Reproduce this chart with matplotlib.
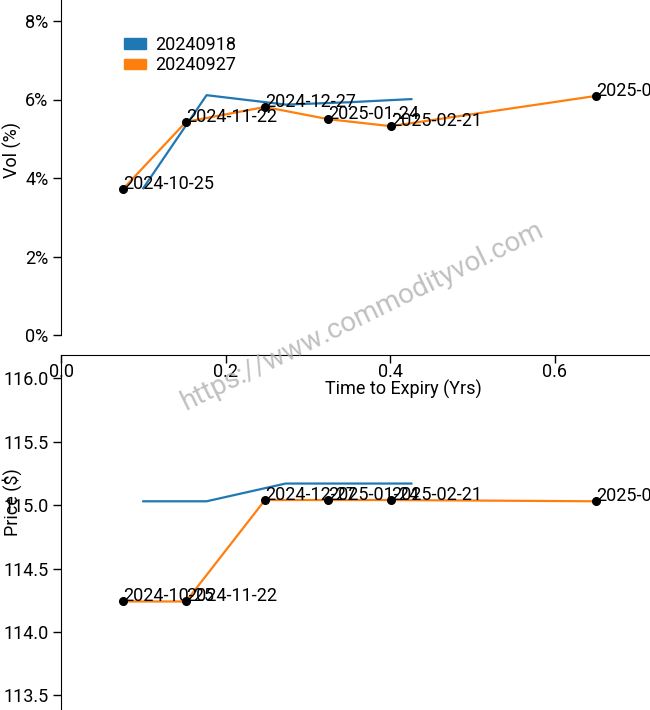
import matplotlib
matplotlib.use("Agg")
import matplotlib.pyplot as plt
from matplotlib.patches import Patch
from matplotlib.ticker import FuncFormatter

plt.rcParams["font.family"] = ["Roboto", "DejaVu Sans"]
plt.rcParams["font.size"] = 13

# 数据
series_names = ["20240918", "20240927"]
blue_t = [0.100, 0.177, 0.273, 0.350, 0.426]
blue_vol = [3.74, 6.11, 5.87, 5.93, 6.01]
blue_px = [115.03, 115.03, 115.17, 115.17, 115.17]
orange_t = [0.0754, 0.152, 0.248, 0.3246, 0.401, 0.650]
orange_vol = [3.72, 5.43, 5.81, 5.50, 5.32, 6.09]
orange_px = [114.24, 114.24, 115.04, 115.04, 115.04, 115.03]
expiry_labels = ["2024-10-25", "2024-11-22", "2024-12-27", "2025-01-24", "2025-02-21", "2025-05-23"]

vol_ticks = [0, 2, 4, 6, 8]
px_ticks = [113.5, 114.0, 114.5, 115.0, 115.5, 116.0]
t_ticks = [0.0, 0.2, 0.4, 0.6, 0.8]

blue = "#1f77b4"
orange = "#ff7f0e"

W, H = 650, 710
fig = plt.figure(figsize=(W / 100, H / 100), dpi=100)

# 坐标轴位置 (像素)
left = 61 / W
width = 684 / W
ax1 = fig.add_axes([left, 0.5, width, 0.5])
ax2 = fig.add_axes([left, 0.0, width, 0.5])

xmax = 684 / 822.5
for ax in (ax1, ax2):
    ax.set_xlim(0, xmax)
    ax.spines["top"].set_visible(False)
    ax.spines["right"].set_visible(False)
    ax.patch.set_alpha(0)
    ax.tick_params(length=6, width=1, pad=3, labelsize=13)

# 上图: 波动率
ax1.set_ylim(-20 / 39.25, 335 / 39.25)
ax1.spines["left"].set_bounds(0, 335 / 39.25)
ax1.set_yticks(vol_ticks)
ax1.yaxis.set_major_formatter(FuncFormatter(lambda v, p: "%d%%" % v))
ax1.set_xticks(t_ticks)
ax1.xaxis.set_major_formatter(FuncFormatter(lambda v, p: "%.1f" % v))
ax1.tick_params(axis="x", pad=-0.5)
ax1.plot(blue_t, blue_vol, color=blue, lw=1.6, zorder=2)
ax1.plot(orange_t, orange_vol, color=orange, lw=1.6, zorder=2)
ax1.plot(orange_t, orange_vol, "o", color="black", ms=5.5, zorder=3)
for t, v, lab in zip(orange_t, orange_vol, expiry_labels):
    ax1.text(t, v, lab, ha="left", va="baseline", fontsize=13, zorder=4, clip_on=False)
ax1.set_xlabel("Time to Expiry (Yrs)", fontsize=13, labelpad=-0.5)
ax1.set_ylabel("Vol (%)", fontsize=13)
ax1.yaxis.set_label_coords(-39 / 684, 205 / 355)

handles = [Patch(color=blue), Patch(color=orange)]
ax1.legend(handles, series_names, loc="upper left", bbox_to_anchor=(124 / W, 1 - 36 / H),
           bbox_transform=fig.transFigure, frameon=False, fontsize=13,
           handlelength=1.2, handleheight=0.5, handletextpad=0.55, labelspacing=0.12,
           borderpad=0, borderaxespad=0)

# 下图: 价格
ax2.set_ylim(113.5 - 14.7 / 126.8, 116.0 + 23.3 / 126.8)
ax2.set_yticks(px_ticks)
ax2.yaxis.set_major_formatter(FuncFormatter(lambda v, p: "%.1f" % v))
ax2.spines["bottom"].set_visible(False)
ax2.tick_params(axis="x", bottom=False, labelbottom=False)
ax2.plot(blue_t, blue_px, color=blue, lw=1.6, zorder=2)
ax2.plot(orange_t, orange_px, color=orange, lw=1.6, zorder=2)
ax2.plot(orange_t, orange_px, "o", color="black", ms=5.5, zorder=3)
for t, v, lab in zip(orange_t, orange_px, expiry_labels):
    ax2.text(t, v, lab, ha="left", va="baseline", fontsize=13, zorder=4, clip_on=False)
ax2.set_ylabel("Price ($)", fontsize=13)
ax2.yaxis.set_label_coords(-39 / 684, (710 - 502) / 355)

# 水印
fig.text(362 / W, 1 - 316 / H, "https://www.commodityvol.com", fontsize=20, color="#b0b0b0",
         alpha=0.8, rotation=26, ha="center", va="center", rotation_mode="anchor")

fig.savefig("out.png", dpi=100)
